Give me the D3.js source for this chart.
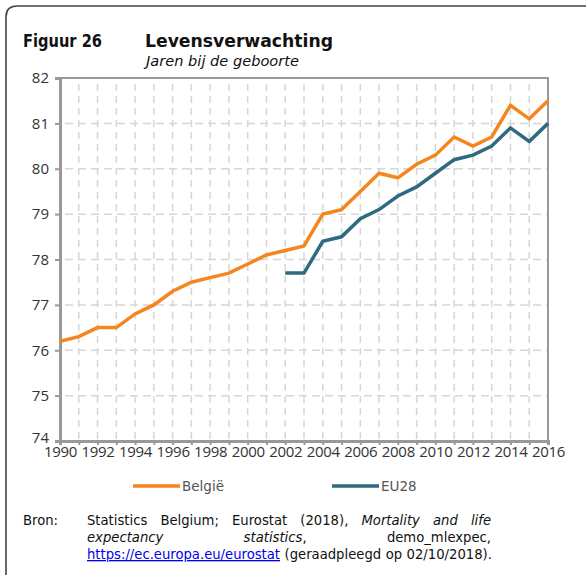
<!DOCTYPE html>
<html>
<head>
<meta charset="utf-8">
<script src="https://cdn.jsdelivr.net/npm/d3@7"></script>
<style>
  body { margin: 0; background: #fff; }
  svg { display: block; }
</style>
</head>
<body>
<div id="chart"></div>
<script>
const years = d3.range(1990, 2017)
const belgie = [76.2, 76.3, 76.5, 76.5, 76.8, 77.0, 77.3, 77.5, 77.6, 77.7, 77.9, 78.1, 78.2, 78.3,
  79.0, 79.1, 79.5, 79.9, 79.8, 80.1, 80.3, 80.7, 80.5, 80.7, 81.4, 81.1, 81.5]
const eu28Years = d3.range(2002, 2017)
const eu28 = [77.7, 77.7, 78.4, 78.5, 78.9, 79.1, 79.4, 79.6, 79.9, 80.2, 80.3, 80.5, 80.9, 80.6, 81.0]
const yTicks = [74, 75, 76, 77, 78, 79, 80, 81, 82]
const xTickLabels = d3.range(1990, 2017, 2)

const W = 586, H = 575
const margin = {left: 60, right: 38, top: 78, bottom: 134}

const svg = d3.select('#chart').append('svg')
  .attr('width', W)
  .attr('height', H)

// outer frame (top + left, rounded corner)
svg.append('path')
  .attr('d', `M6,${H} L6,17 Q6,6 17,6 L${W},6`)
  .attr('fill', 'none')
  .attr('stroke', '#444')
  .attr('stroke-width', 1.6)

// title
svg.append('text').attr('x', 23).attr('y', 47)
  .attr('font-family', 'DejaVu Sans').attr('font-weight', 'bold').attr('font-size', 17.5)
  .attr('textLength', 79).attr('lengthAdjust', 'spacingAndGlyphs')
  .attr('fill', '#111').text('Figuur 26')
svg.append('text').attr('x', 145).attr('y', 47)
  .attr('font-family', 'DejaVu Sans').attr('font-weight', 'bold').attr('font-size', 17.5)
  .attr('textLength', 188).attr('lengthAdjust', 'spacingAndGlyphs')
  .attr('fill', '#111').text('Levensverwachting')
svg.append('text').attr('x', 146).attr('y', 66)
  .attr('font-family', 'DejaVu Sans').attr('font-style', 'italic').attr('font-size', 13.5)
  .attr('textLength', 153).attr('lengthAdjust', 'spacingAndGlyphs')
  .attr('fill', '#111').text('Jaren bij de geboorte')

const x = d3.scaleLinear().domain([1990, 2016]).range([margin.left, W - margin.right])
const y = d3.scaleLinear().domain([74, 82]).range([H - margin.bottom, margin.top])

const x0 = x.range()[0], x1 = x.range()[1]
const y0 = y.range()[0], y1 = y.range()[1]

// grid
const grid = svg.append('g')
grid.selectAll('.vg').data(years.slice(1, -1)).enter().append('line')
  .attr('x1', d => x(d)).attr('x2', d => x(d))
  .attr('y1', y1).attr('y2', y0)
  .attr('stroke', '#d6d6d6').attr('stroke-width', 1.5)
  .attr('stroke-dasharray', '7,5').attr('stroke-dashoffset', -6)
grid.selectAll('.hg').data(yTicks.slice(1, -1)).enter().append('line')
  .attr('x1', x0).attr('x2', x1)
  .attr('y1', d => y(d)).attr('y2', d => y(d))
  .attr('stroke', '#d6d6d6').attr('stroke-width', 1.5)
  .attr('stroke-dasharray', '8,5').attr('stroke-dashoffset', -5)

// frame top + right
svg.append('path')
  .attr('d', `M${x0},${y1} L${x1},${y1} L${x1},${y0}`)
  .attr('fill', 'none').attr('stroke', '#999').attr('stroke-width', 2)

// axes
const yAxis = d3.axisLeft(y).tickValues(yTicks).tickSize(5).tickPadding(6)
const gy = svg.append('g').attr('transform', `translate(${x0},0)`).call(yAxis)
gy.select('.domain').attr('stroke', '#999').attr('stroke-width', 3)
gy.selectAll('.tick line').attr('stroke', '#999').attr('stroke-width', 2)
gy.selectAll('.tick text').attr('font-family', 'Open Sans').attr('font-size', 15).attr('fill', '#333')
// lift the lowest label a little so it clears the 1990 label
gy.selectAll('.tick text').filter(d => d === 74).attr('dy', '0.1em')

const xAxis = d3.axisBottom(x).tickValues(years).tickSize(4).tickPadding(1)
  .tickFormat(d => xTickLabels.includes(d) ? d : '')
const gx = svg.append('g').attr('transform', `translate(0,${y0})`).call(xAxis)
gx.select('.domain').attr('stroke', '#999').attr('stroke-width', 3)
gx.selectAll('.tick line').attr('stroke', '#999').attr('stroke-width', 2)
gx.selectAll('.tick text').attr('font-family', 'Open Sans').attr('font-size', 15).attr('fill', '#333')
  .attr('letter-spacing', -0.3)

// lines
const line = d3.line().x(d => x(d[0])).y(d => y(d[1]))
svg.append('path')
  .datum(eu28Years.map((yr, i) => [yr, eu28[i]]))
  .attr('d', line).attr('fill', 'none')
  .attr('stroke', '#2e6a80').attr('stroke-width', 3.5).attr('stroke-linejoin', 'miter')
svg.append('path')
  .datum(years.map((yr, i) => [yr, belgie[i]]))
  .attr('d', line).attr('fill', 'none')
  .attr('stroke', '#f5861f').attr('stroke-width', 3.5).attr('stroke-linejoin', 'miter')

// legend
const legend = [
  {name: 'België', color: '#f5861f', lx: 133},
  {name: 'EU28', color: '#2e6a80', lx: 332}
]
const lg = svg.selectAll('.lg').data(legend).enter().append('g')
lg.append('line')
  .attr('x1', d => d.lx).attr('x2', d => d.lx + 47)
  .attr('y1', 486).attr('y2', 486)
  .attr('stroke', d => d.color).attr('stroke-width', 3.5)
lg.append('text')
  .attr('x', d => d.lx + 49).attr('y', 491)
  .attr('font-family', 'DejaVu Sans').attr('font-size', 13.5).attr('fill', '#555')
  .text(d => d.name)

// source text
const srcFont = 'DejaVu Sans'
const srcSize = 13.2
svg.append('text').attr('x', 23).attr('y', 525)
  .attr('font-family', srcFont).attr('font-size', srcSize).attr('fill', '#111').text('Bron:')

const srcLines = [
  {words: [['Statistics'], ['Belgium;'], ['Eurostat'], ['(2018),'], ['Mortality', 'i'], ['and', 'i'], ['life', 'i']], justify: true},
  {words: [['expectancy', 'i'], ['statistics', 'i', ','], ['demo_mlexpec,']], justify: true},
  {words: [['https://ec.europa.eu/eurostat', 'link'], ['(geraadpleegd'], ['op'], ['02/10/2018).']], justify: false}
]
const srcLeft = 87, srcRight = 491
srcLines.forEach((ln, li) => {
  const yy = 525 + li * 17
  const nodes = ln.words.map(w => {
    const t = svg.append('text').attr('y', yy)
      .attr('font-family', srcFont).attr('font-size', srcSize).attr('fill', '#111')
    if (w[1] === 'i') {
      t.append('tspan').attr('font-style', 'italic').text(w[0])
      if (w[2]) t.append('tspan').text(w[2])
    } else if (w[1] === 'link') {
      t.attr('fill', '#0000ee').attr('text-decoration', 'underline').text(w[0])
    } else {
      t.text(w[0])
    }
    return t
  })
  const widths = nodes.map(n => n.node().getComputedTextLength())
  const total = d3.sum(widths)
  const space = ln.justify ? (srcRight - srcLeft - total) / (nodes.length - 1) : 4.5
  let cx = srcLeft
  nodes.forEach((n, i) => {
    n.attr('x', cx)
    cx += widths[i] + space
  })
})
</script>
</body>
</html>
